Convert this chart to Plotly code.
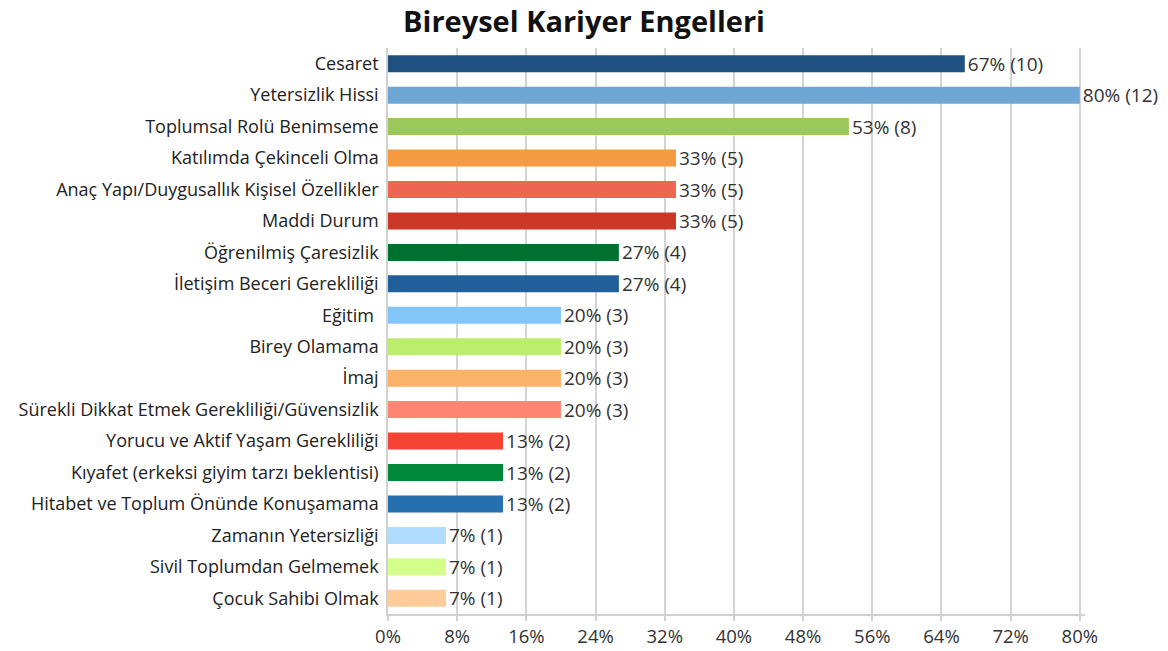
import plotly.graph_objects as go

categories = [
    "Cesaret",
    "Yetersizlik Hissi",
    "Toplumsal Rolü Benimseme",
    "Katılımda Çekinceli Olma",
    "Anaç Yapı/Duygusallık Kişisel Özellikler",
    "Maddi Durum",
    "Öğrenilmiş Çaresizlik",
    "İletişim Beceri Gerekliliği",
    "Eğitim ",
    "Birey Olamama",
    "İmaj",
    "Sürekli Dikkat Etmek Gerekliliği/Güvensizlik",
    "Yorucu ve Aktif Yaşam Gerekliliği",
    "Kıyafet (erkeksi giyim tarzı beklentisi)",
    "Hitabet ve Toplum Önünde Konuşamama",
    "Zamanın Yetersizliği",
    "Sivil Toplumdan Gelmemek",
    "Çocuk Sahibi Olmak",
]
percent_values = [66.7, 80.0, 53.3, 33.3, 33.3, 33.3, 26.7, 26.7, 20.0, 20.0,
                  20.0, 20.0, 13.3, 13.3, 13.3, 6.7, 6.7, 6.7]
counts = [10, 12, 8, 5, 5, 5, 4, 4, 3, 3, 3, 3, 2, 2, 2, 1, 1, 1]
tick_values = [0, 8, 16, 24, 32, 40, 48, 56, 64, 72, 80]
tick_labels = ["0%", "8%", "16%", "24%", "32%", "40%", "48%", "56%", "64%", "72%", "80%"]

colors = [
    "#1E5180", "#6DA7D6", "#9BC85A", "#F49A41", "#EE6552", "#CC3828",
    "#00702F", "#215F9A", "#83C7FA", "#BCEE6E", "#FDB26A", "#FF8573",
    "#F54433", "#00883A", "#2670B0", "#B0DDFD", "#D4FF8A", "#FFCB99",
]

labels = [f"{round(p)}% ({c})" for p, c in zip(percent_values, counts)]

fig = go.Figure(go.Bar(
    y=categories,
    x=percent_values,
    orientation="h",
    marker=dict(color=colors, line=dict(width=0)),
    text=labels,
    textposition="outside",
    constraintext="none",
    textfont=dict(size=19, color="#333333", family="Open Sans"),
    cliponaxis=False,
))

fig.update_layout(
    width=1168, height=651,
    margin=dict(l=388, r=83, t=48, b=37, autoexpand=False),
    paper_bgcolor="white", plot_bgcolor="white",
    bargap=0.46,
    showlegend=False,
    font=dict(family="Open Sans", size=18, color="#333333"),
    title=dict(text="<b>Bireysel Kariyer Engelleri</b>", x=0.5, xanchor="center",
               y=0.966, yanchor="middle",
               font=dict(size=29, color="#111111", family="Open Sans")),
)
fig.update_xaxes(
    range=[0, 80.6], tickvals=tick_values, ticktext=tick_labels,
    showgrid=True, gridcolor="#D4D4D4", gridwidth=1.5,
    showline=True, linecolor="#D0D0D0", linewidth=1.5,
    ticks="outside", ticklen=5, tickcolor="#D0D0D0", tickwidth=1.5,
    tickfont=dict(size=18.5, color="#333333"), zeroline=False, automargin=False,
)
fig.update_yaxes(
    autorange="reversed", showline=True, linecolor="#D0D0D0", linewidth=1.5,
    ticks="", ticklabelstandoff=4, tickfont=dict(size=18, color="#222222"),
    automargin=False,
)

fig.write_html("out.html", config={"displayModeBar": False},
               post_script="document.body.style.margin='0';")
